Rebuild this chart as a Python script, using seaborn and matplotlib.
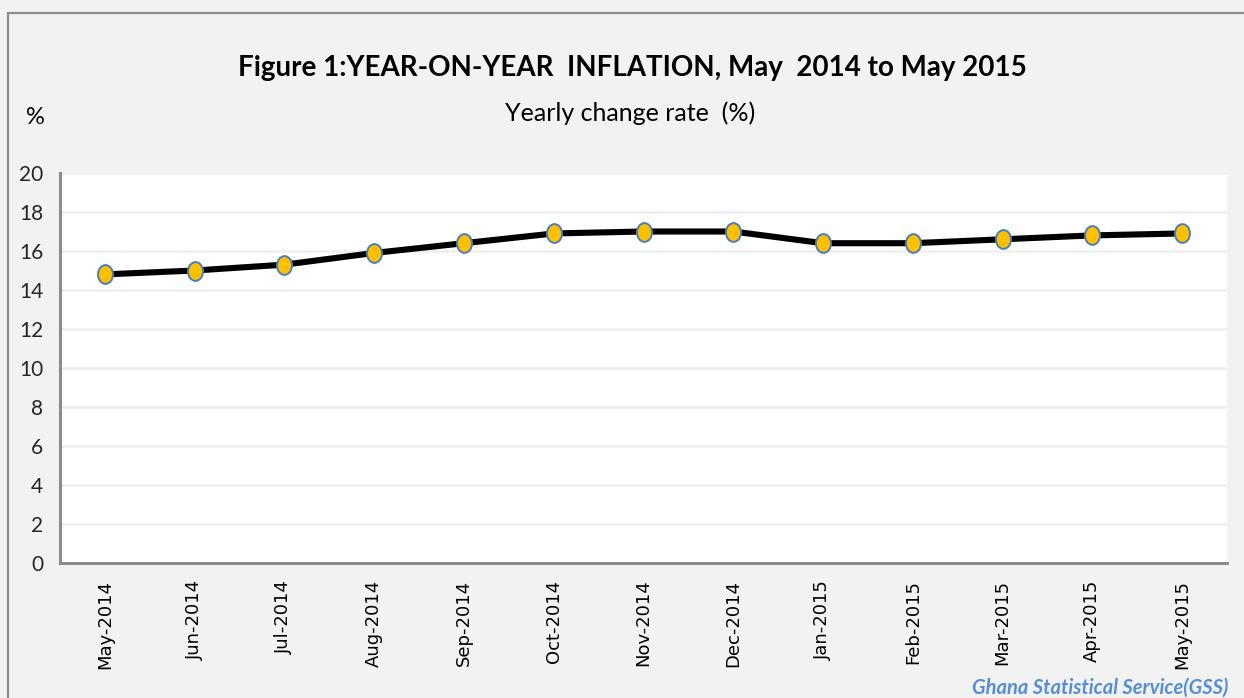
import pandas as pd
import matplotlib.pyplot as plt
import seaborn as sns
from matplotlib.patches import Rectangle
from matplotlib.path import Path
from matplotlib.transforms import Affine2D


MONTHS = [
    "May-2014", "Jun-2014", "Jul-2014", "Aug-2014", "Sep-2014", "Oct-2014",
    "Nov-2014", "Dec-2014", "Jan-2015", "Feb-2015", "Mar-2015", "Apr-2015",
    "May-2015",
]
INFLATION = [14.8, 15.0, 15.3, 15.9, 16.4, 16.9, 17.0, 17.0, 16.4, 16.4, 16.6, 16.8, 16.9]
Y_TICKS = [0, 2, 4, 6, 8, 10, 12, 14, 16, 18, 20]

NARROW = ["Lato", "DejaVu Sans"]


def main() -> None:
    sns.set_theme(style="white")
    plt.rcParams["font.family"] = ["DejaVu Sans"]

    df = pd.DataFrame({"month": MONTHS, "rate": INFLATION})
    df["pos"] = range(len(df))

    fig = plt.figure(figsize=(12.44, 6.98), dpi=100)
    fig.patch.set_facecolor("#f2f2f2")
    ax = fig.add_axes([60 / 1244, 1 - 563 / 698, (1227 - 60) / 1244, (563 - 173) / 698])
    ax.set_facecolor("white")

    # outer chart border (cut off at right/bottom, like the source)
    fig.add_artist(Rectangle((8 / 1244, -0.2), 1.2, 1 - 13 / 698 + 0.2,
                             transform=fig.transFigure, fill=False,
                             edgecolor="#8c8c8c", linewidth=1.6))

    ellipse = Affine2D().scale(0.8, 1.0).transform_path(Path.unit_circle())
    sns.lineplot(data=df, x="pos", y="rate", ax=ax, color="black", linewidth=4.4,
                 marker=ellipse, markersize=13.5, markerfacecolor="#ffc000",
                 markeredgecolor="#4a7ebb", markeredgewidth=1.4, zorder=3)

    ax.set_xlim(-0.5, len(MONTHS) - 0.5)
    ax.set_ylim(0, 20)
    ax.set_yticks(Y_TICKS)
    ax.set_yticklabels([str(t) for t in Y_TICKS], fontsize=15, family=NARROW)
    ax.set_xticks(df["pos"])
    ax.set_xticklabels(MONTHS, rotation=90, fontsize=13, color="black")
    ax.tick_params(axis="x", length=0, pad=12)
    ax.tick_params(axis="y", length=0, pad=12)
    ax.set_xlabel("")
    ax.set_ylabel("")

    ax.grid(axis="y", color="#efefef", linewidth=1.8)
    ax.grid(axis="x", visible=False)
    for side in ["top", "right"]:
        ax.spines[side].set_visible(False)
    for side in ["left", "bottom"]:
        ax.spines[side].set_color("#8c8c8c")
        ax.spines[side].set_linewidth(2.2)

    fig.text(632 / 1244, 1 - 68 / 698, "Figure 1:YEAR-ON-YEAR  INFLATION, May  2014 to May 2015",
             ha="center", va="center", fontsize=20, fontweight="bold", family=NARROW,
             color="black")
    fig.text(630 / 1244, 1 - 113 / 698, "Yearly change rate  (%)",
             ha="center", va="center", fontsize=18, family=NARROW, color="black")
    fig.text(35 / 1244, 1 - 117 / 698, "%", ha="center", va="center", fontsize=17,
             family=NARROW, color="black")
    fig.text(1228 / 1244, 1 - 688 / 698, "Ghana Statistical Service(GSS)",
             ha="right", va="center", fontsize=14.5, fontweight="bold", style="italic",
             color="#558ed5", family=NARROW)

    fig.savefig("out.png", dpi=100, facecolor=fig.get_facecolor())


if __name__ == "__main__":
    main()
